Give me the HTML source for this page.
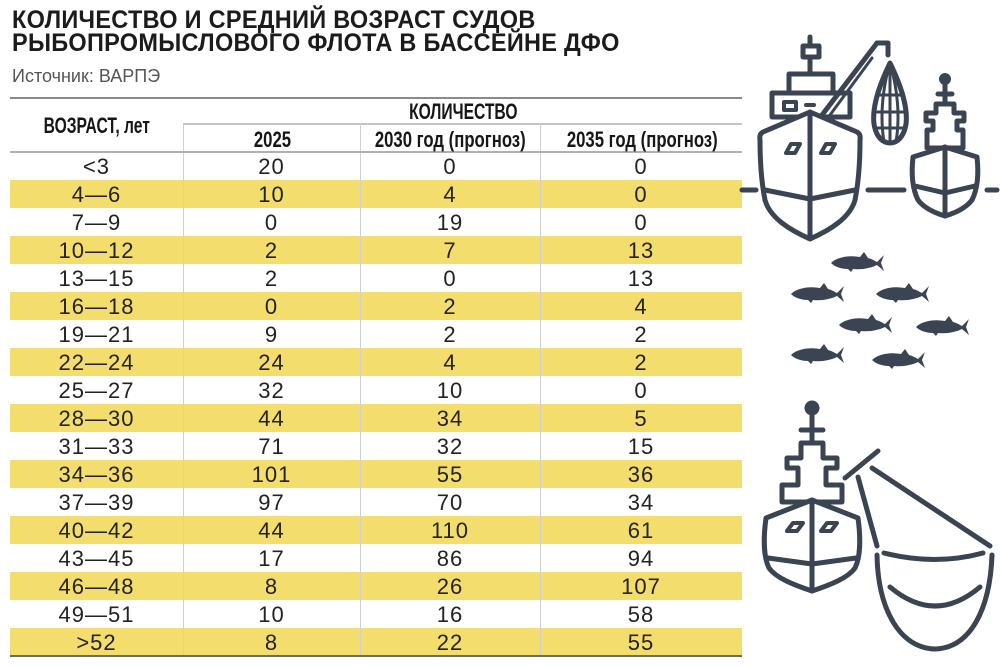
<!DOCTYPE html>
<html><head><meta charset="utf-8">
<style>
html,body{margin:0;padding:0;background:#fff;}
body{width:1000px;height:667px;position:relative;overflow:hidden;font-family:"Liberation Sans","Noto Sans CJK SC",sans-serif;}
.t{position:absolute;left:12px;font-weight:bold;font-size:25px;color:#1b1b1b;white-space:nowrap;letter-spacing:0.3px;transform:scaleX(0.94);transform-origin:left top;}
.src{position:absolute;left:12px;top:66px;font-size:18px;color:#555;white-space:nowrap;}
.hl{position:absolute;height:2px;}
.vl{position:absolute;width:1px;background:#cfcfcf;top:124px;height:532px;}
.yr{position:absolute;left:10px;width:732px;height:28px;background:#f3dd6c;}
.h{position:absolute;text-align:center;font-weight:bold;font-size:22px;color:#161616;white-space:nowrap;line-height:24px;width:300px;}
.h span{display:inline-block;transform:scaleX(0.71);transform-origin:center;}
.h span.w{transform:scaleX(0.76);}
.row{position:absolute;left:10px;width:732px;height:28px;font-size:22px;color:#222;line-height:30px;letter-spacing:1px;}
.row div{position:absolute;top:0;text-align:center;}
.c0{left:0;width:173px;}
.c1{left:173px;width:177px;}
.c2{left:350px;width:180px;}
.c3{left:530px;width:202px;}
</style></head><body>
<div class="t" style="top:6px;">КОЛИЧЕСТВО И СРЕДНИЙ ВОЗРАСТ СУДОВ</div>
<div class="t" style="top:29px;">РЫБОПРОМЫСЛОВОГО ФЛОТА В БАССЕЙНЕ ДФО</div>
<div class="src">Источник: ВАРПЭ</div>

<div class="hl" style="left:10px;width:732px;top:97px;background:#8a8a8a;height:1.5px;"></div>
<div class="hl" style="left:183px;width:559px;top:123px;background:#c4c4c4;"></div>

<div class="yr" style="top:180px"></div>
<div class="yr" style="top:236px"></div>
<div class="yr" style="top:292px"></div>
<div class="yr" style="top:348px"></div>
<div class="yr" style="top:404px"></div>
<div class="yr" style="top:460px"></div>
<div class="yr" style="top:516px"></div>
<div class="yr" style="top:572px"></div>
<div class="yr" style="top:628px"></div>

<div class="vl" style="left:183px"></div>
<div class="vl" style="left:360px"></div>
<div class="vl" style="left:540px"></div>

<div class="hl" style="left:10px;width:732px;top:151px;background:#b0b0b0;"></div>
<div class="hl" style="left:10px;width:732px;top:655px;background:#6b6b6b;"></div>

<div class="h" style="left:-53px;top:114px;"><span>ВОЗРАСТ, лет</span></div>
<div class="h" style="left:313px;top:100px;"><span>КОЛИЧЕСТВО</span></div>
<div class="h" style="left:122px;top:128px;"><span class="w">2025</span></div>
<div class="h" style="left:300px;top:128px;"><span class="w">2030 год (прогноз)</span></div>
<div class="h" style="left:492px;top:128px;"><span class="w">2035 год (прогноз)</span></div>

<div class="row" style="top:152px"><div class="c0">&lt;3</div><div class="c1">20</div><div class="c2">0</div><div class="c3">0</div></div>
<div class="row" style="top:180px"><div class="c0">4—6</div><div class="c1">10</div><div class="c2">4</div><div class="c3">0</div></div>
<div class="row" style="top:208px"><div class="c0">7—9</div><div class="c1">0</div><div class="c2">19</div><div class="c3">0</div></div>
<div class="row" style="top:236px"><div class="c0">10—12</div><div class="c1">2</div><div class="c2">7</div><div class="c3">13</div></div>
<div class="row" style="top:264px"><div class="c0">13—15</div><div class="c1">2</div><div class="c2">0</div><div class="c3">13</div></div>
<div class="row" style="top:292px"><div class="c0">16—18</div><div class="c1">0</div><div class="c2">2</div><div class="c3">4</div></div>
<div class="row" style="top:320px"><div class="c0">19—21</div><div class="c1">9</div><div class="c2">2</div><div class="c3">2</div></div>
<div class="row" style="top:348px"><div class="c0">22—24</div><div class="c1">24</div><div class="c2">4</div><div class="c3">2</div></div>
<div class="row" style="top:376px"><div class="c0">25—27</div><div class="c1">32</div><div class="c2">10</div><div class="c3">0</div></div>
<div class="row" style="top:404px"><div class="c0">28—30</div><div class="c1">44</div><div class="c2">34</div><div class="c3">5</div></div>
<div class="row" style="top:432px"><div class="c0">31—33</div><div class="c1">71</div><div class="c2">32</div><div class="c3">15</div></div>
<div class="row" style="top:460px"><div class="c0">34—36</div><div class="c1">101</div><div class="c2">55</div><div class="c3">36</div></div>
<div class="row" style="top:488px"><div class="c0">37—39</div><div class="c1">97</div><div class="c2">70</div><div class="c3">34</div></div>
<div class="row" style="top:516px"><div class="c0">40—42</div><div class="c1">44</div><div class="c2">110</div><div class="c3">61</div></div>
<div class="row" style="top:544px"><div class="c0">43—45</div><div class="c1">17</div><div class="c2">86</div><div class="c3">94</div></div>
<div class="row" style="top:572px"><div class="c0">46—48</div><div class="c1">8</div><div class="c2">26</div><div class="c3">107</div></div>
<div class="row" style="top:600px"><div class="c0">49—51</div><div class="c1">10</div><div class="c2">16</div><div class="c3">58</div></div>
<div class="row" style="top:628px"><div class="c0">&gt;52</div><div class="c1">8</div><div class="c2">22</div><div class="c3">55</div></div>

<svg width="1000" height="667" style="position:absolute;left:0;top:0;" viewBox="0 0 1000 667">
<defs>
<path id="fish" d="M-26,0 C-20,-6 -8,-8 3,-6 L7,-11 L11,-5 C15,-4 18,-2 20,-1 L27,-8 L24,0 L27,8 L20,2 C14,5 5,7 -4,6 L-6,9 L-9,6 C-17,6 -23,3 -26,0 Z" fill="#3b4452"/>
</defs>
<g fill="none" stroke="#3b4452" stroke-width="5" stroke-linecap="round" stroke-linejoin="round">
<line x1="742" y1="190" x2="756" y2="190"/>
<line x1="868" y1="190" x2="904" y2="190"/>
<line x1="987" y1="190" x2="997" y2="190"/>
<line x1="810" y1="37" x2="810" y2="74"/>
<rect x="803" y="46" width="16" height="11" fill="#fff"/>
<rect x="789" y="74" width="44" height="19" fill="#fff"/>
<rect x="772" y="93" width="78" height="24" fill="#fff"/>
<rect x="784" y="102" width="12" height="8" stroke-width="4"/>
<line x1="806" y1="105" x2="814" y2="105" stroke-width="4"/>
<line x1="822" y1="115" x2="877" y2="43"/>
<line x1="830" y1="115" x2="872" y2="58" stroke-width="3"/>
<polyline points="877,43 888,43 888,55"/>
<path d="M810,112 L857,132 Q861,134 860,140 C860,162 859,180 855,200 C850,218 830,230 810,239 C790,230 770,218 765,200 C761,180 760,162 760,140 Q759,134 763,132 Z" fill="#fff"/>
<line x1="810" y1="112" x2="810" y2="239"/>
<path d="M765,190 L810,199 L855,190"/>
<path d="M786,153 L791,144 L800,144 L795,153 Z" stroke-width="4"/>
<path d="M821,153 L826,144 L835,144 L830,153 Z" stroke-width="4"/>
<path d="M890,63 C878,88 872,108 874,124 C876,137 883,143 890,143 C897,143 904,137 906,124 C908,108 902,88 890,63 Z"/>
<g stroke-width="3">
<line x1="890" y1="63" x2="890" y2="143"/>
<path d="M890,63 C882,90 880,118 884,142"/>
<path d="M890,63 C898,90 900,118 896,142"/>
<line x1="878" y1="95" x2="902" y2="95"/>
<line x1="874" y1="112" x2="906" y2="112"/>
<line x1="875" y1="128" x2="905" y2="128"/>
</g>
<circle cx="945" cy="79" r="3.5" fill="#3b4452"/>
<line x1="945" y1="79" x2="945" y2="104"/>
<line x1="938" y1="94" x2="952" y2="94"/>
<path d="M936,104 L954,104 L954,113 L964,113 L964,121 L957,121 L957,130 L963,130 L963,148 L927,148 L927,130 L933,130 L933,121 L926,121 L926,113 L936,113 Z" fill="#fff"/>
<path d="M945,147 L977,157 C979,175 977,190 972,200 C966,208 955,213 945,216 C935,213 924,208 918,200 C913,190 911,175 913,157 Z" fill="#fff"/>
<line x1="945" y1="147" x2="945" y2="216"/>
<path d="M915,186 L945,193 L975,186"/>
<circle cx="812" cy="408" r="5" fill="#3b4452"/>
<line x1="812" y1="408" x2="812" y2="443"/>
<line x1="801" y1="430" x2="823" y2="430"/>
<path d="M801,443 L823,443 L823,458 L837,458 L837,468 L826,468 L826,485 L842,485 L842,502 L782,502 L782,485 L798,485 L798,468 L787,468 L787,458 L801,458 Z" fill="#fff"/>
<path d="M812,500 L858,518 C861,540 860,558 855,568 C848,578 830,585 812,591 C794,585 776,578 769,568 C764,558 763,540 766,518 Z" fill="#fff"/>
<line x1="812" y1="500" x2="812" y2="591"/>
<path d="M768,558 L812,564 L856,558"/>
<path d="M787,531 L793,523 L803,523 L797,531 Z" stroke-width="4"/>
<path d="M821,531 L827,523 L837,523 L831,531 Z" stroke-width="4"/>
<line x1="845" y1="478" x2="878" y2="451"/>
<line x1="858" y1="477" x2="877" y2="546"/>
<line x1="872" y1="468" x2="990" y2="546"/>
<path d="M877,555 C878,610 900,648 935,649 C970,648 990,610 992,555"/>
<path d="M884,553 Q935,566 983,553"/>
<path d="M890,587 Q935,625 980,587"/>
</g>
<use href="#fish" x="857" y="263"/>
<use href="#fish" x="817" y="294"/>
<use href="#fish" x="902" y="294"/>
<use href="#fish" x="865" y="325"/>
<use href="#fish" x="942" y="327"/>
<use href="#fish" x="817" y="355"/>
<use href="#fish" x="898" y="360"/>
</svg>
</body></html>
